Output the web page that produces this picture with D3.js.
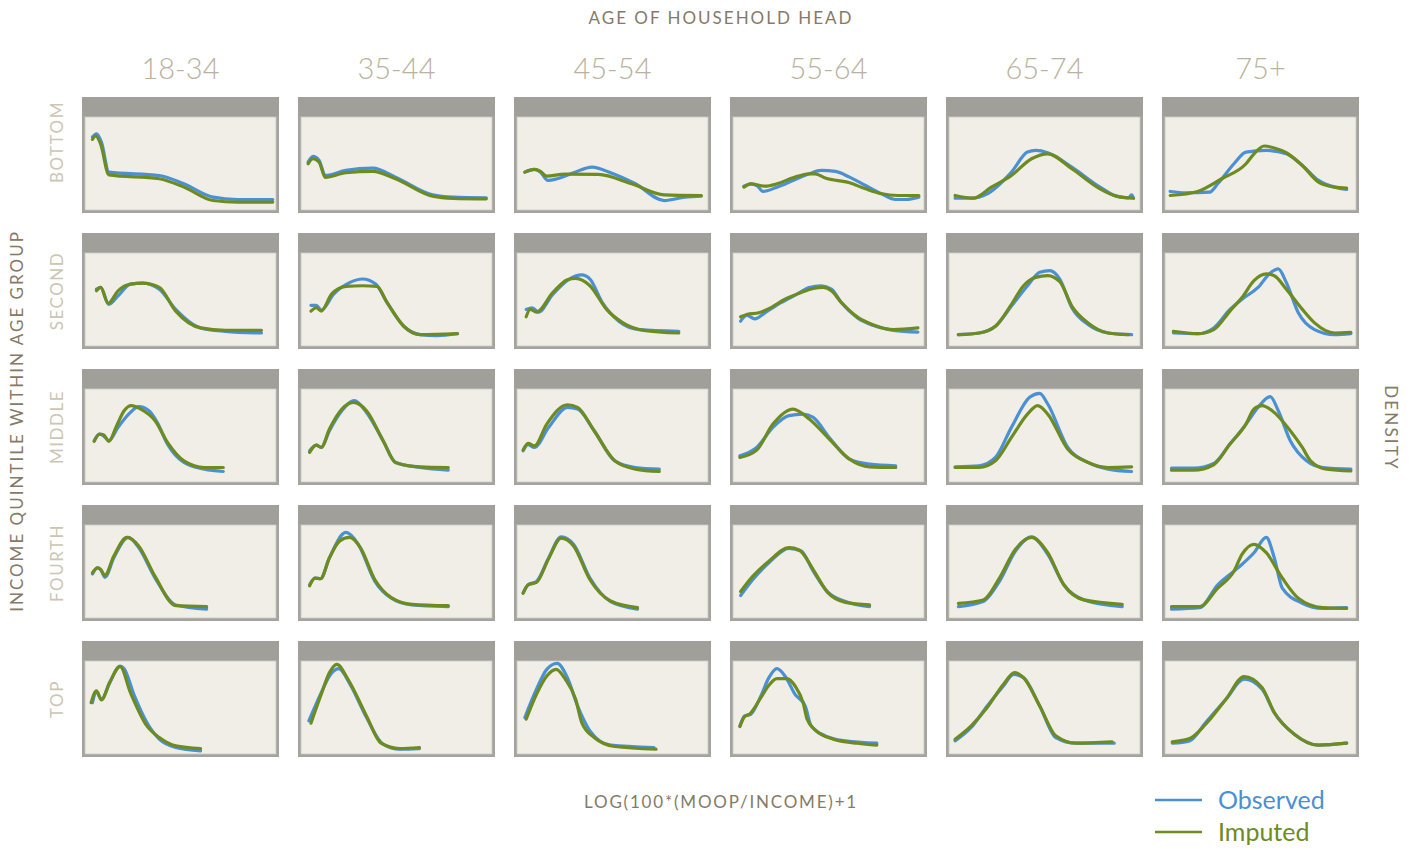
<!DOCTYPE html>
<html>
<head>
<meta charset="utf-8">
<script src="https://cdn.jsdelivr.net/npm/d3@7"></script>
<style>
  body { margin: 0; background: #ffffff; }
  svg { display: block; }
</style>
</head>
<body>
<svg id="chart" width="1416" height="850"></svg>
<script>
// Facet categories
const ageGroups = ["18-34", "35-44", "45-54", "55-64", "65-74", "75+"];
const quintiles = ["BOTTOM", "SECOND", "MIDDLE", "FOURTH", "TOP"];
const seriesNames = ["Observed", "Imputed"];

// Density curves, one per age group, as [log value, density] pairs
const observedBottom = [
  [[0.39,0.775],[0.60,0.81],[0.86,0.72],[1.25,0.40],[3.89,0.364],[5.18,0.275],[6.70,0.132],[7.99,0.107],[9.83,0.107]],
  [[0.37,0.507],[0.63,0.568],[0.95,0.525],[1.27,0.364],[2.35,0.418],[3.76,0.443],[4.95,0.346],[6.89,0.157],[7.97,0.132],[9.70,0.125]],
  [[0.41,0.40],[0.91,0.429],[1.23,0.40],[1.62,0.311],[2.10,0.329],[2.96,0.393],[3.93,0.454],[4.90,0.393],[6.20,0.275],[7.71,0.096],[8.79,0.132],[9.65,0.143]],
  [[0.57,0.25],[0.93,0.275],[1.29,0.25],[1.56,0.193],[2.30,0.239],[3.14,0.311],[3.99,0.382],[4.62,0.418],[5.36,0.407],[6.10,0.346],[6.94,0.257],[7.78,0.168],[8.52,0.107],[9.05,0.107],[9.73,0.132]],
  [[0.32,0.121],[1.16,0.121],[2.00,0.168],[3.27,0.40],[4.11,0.614],[4.54,0.632],[5.17,0.607],[6.43,0.454],[7.91,0.239],[8.76,0.143],[9.39,0.125],[9.56,0.157],[9.66,0.121]],
  [[0.27,0.193],[1.08,0.179],[2.34,0.186],[2.76,0.275],[3.61,0.489],[4.24,0.614],[5.30,0.632],[6.35,0.596],[7.19,0.471],[8.04,0.311],[8.88,0.239],[9.51,0.214]]
];
const imputedBottom = [
  [[0.39,0.75],[0.56,0.786],[0.82,0.70],[1.25,0.371],[3.89,0.329],[5.18,0.24],[6.70,0.096],[7.99,0.079],[9.83,0.079]],
  [[0.37,0.489],[0.63,0.543],[0.95,0.507],[1.27,0.343],[2.35,0.393],[3.76,0.407],[4.95,0.329],[6.89,0.143],[7.97,0.12],[9.70,0.114]],
  [[0.41,0.40],[0.91,0.429],[1.23,0.407],[1.55,0.357],[2.5,0.379],[4.25,0.375],[6.0,0.275],[7.71,0.157],[9.65,0.15]],
  [[0.57,0.239],[0.93,0.275],[1.67,0.25],[2.30,0.275],[3.14,0.339],[3.99,0.382],[4.30,0.382],[4.83,0.336],[6.10,0.286],[6.94,0.221],[7.78,0.168],[8.63,0.15],[9.73,0.15]],
  [[0.32,0.15],[1.27,0.121],[2.22,0.239],[3.27,0.364],[4.32,0.543],[5.17,0.596],[6.43,0.436],[7.91,0.221],[8.76,0.143],[9.66,0.121]],
  [[0.27,0.15],[1.71,0.193],[2.97,0.329],[4.24,0.489],[4.66,0.596],[5.19,0.679],[5.72,0.657],[6.35,0.607],[7.19,0.471],[8.04,0.293],[8.88,0.239],[9.51,0.229]]
];

const observedSecond = [
  [[0.60,0.603],[0.82,0.621],[1.25,0.440],[1.73,0.531],[2.38,0.657],[3.02,0.668],[3.89,0.603],[4.75,0.386],[6.05,0.188],[7.34,0.152],[9.24,0.134]],
  [[0.52,0.430],[0.80,0.430],[1.06,0.379],[1.71,0.549],[2.57,0.675],[3.22,0.711],[3.91,0.657],[4.51,0.458],[5.38,0.206],[6.24,0.116],[7.11,0.105],[8.19,0.126]],
  [[0.48,0.386],[0.80,0.404],[1.12,0.357],[1.88,0.549],[2.74,0.711],[3.39,0.755],[3.82,0.711],[4.47,0.458],[5.33,0.260],[6.41,0.170],[8.47,0.152]],
  [[0.40,0.26],[0.72,0.321],[1.14,0.285],[1.67,0.350],[2.51,0.458],[3.35,0.549],[3.99,0.621],[4.62,0.639],[5.15,0.603],[5.68,0.458],[6.52,0.296],[7.36,0.213],[8.42,0.162],[9.68,0.144]],
  [[0.49,0.116],[1.58,0.134],[2.43,0.206],[3.27,0.422],[4.11,0.639],[4.75,0.783],[5.27,0.801],[5.80,0.711],[6.43,0.404],[7.28,0.224],[8.33,0.134],[9.56,0.116]],
  [[0.44,0.134],[1.71,0.126],[2.55,0.188],[3.40,0.386],[4.03,0.495],[4.87,0.621],[5.51,0.776],[5.93,0.819],[6.35,0.675],[6.98,0.350],[7.83,0.170],[8.88,0.116],[9.73,0.126]]
];
const imputedSecond = [
  [[0.60,0.585],[0.82,0.621],[1.21,0.451],[1.73,0.585],[2.38,0.657],[3.02,0.668],[3.89,0.621],[4.75,0.368],[6.05,0.188],[7.34,0.162],[9.24,0.162]],
  [[0.52,0.368],[0.80,0.404],[1.06,0.368],[1.60,0.549],[2.35,0.632],[3.22,0.639],[3.97,0.632],[4.51,0.458],[5.38,0.206],[6.24,0.116],[8.19,0.126]],
  [[0.48,0.307],[0.69,0.386],[1.02,0.357],[1.88,0.567],[2.64,0.704],[3.07,0.718],[3.82,0.639],[4.69,0.386],[5.55,0.242],[6.63,0.162],[8.47,0.134]],
  [[0.40,0.307],[0.72,0.332],[1.35,0.350],[1.88,0.394],[2.72,0.495],[3.57,0.567],[4.20,0.610],[4.73,0.621],[5.15,0.585],[5.68,0.458],[6.52,0.303],[7.36,0.220],[8.42,0.170],[9.68,0.188]],
  [[0.49,0.116],[1.58,0.134],[2.43,0.206],[3.27,0.440],[3.90,0.639],[4.54,0.729],[5.17,0.747],[5.80,0.682],[6.43,0.422],[7.28,0.242],[8.33,0.134],[9.39,0.116]],
  [[0.44,0.152],[1.71,0.126],[2.55,0.170],[3.40,0.368],[4.03,0.513],[4.66,0.693],[5.30,0.765],[5.72,0.747],[6.35,0.603],[7.19,0.386],[7.83,0.242],[8.88,0.134],[9.73,0.141]]
];

const observedMiddle = [
  [[0.48,0.436],[0.76,0.507],[0.97,0.489],[1.25,0.436],[1.73,0.579],[2.38,0.739],[2.81,0.80],[3.35,0.757],[3.78,0.632],[4.32,0.40],[5.18,0.204],[6.26,0.132],[7.24,0.107]],
  [[0.45,0.329],[0.80,0.389],[1.06,0.364],[1.49,0.543],[2.14,0.757],[2.79,0.864],[3.43,0.739],[4.30,0.436],[4.95,0.204],[6.24,0.15],[7.71,0.121]],
  [[0.32,0.329],[0.58,0.393],[0.91,0.364],[1.66,0.579],[2.64,0.793],[3.17,0.775],[4.04,0.543],[5.12,0.221],[6.20,0.15],[7.45,0.132]],
  [[0.36,0.275],[1.24,0.364],[2.09,0.579],[2.93,0.704],[3.67,0.721],[4.20,0.686],[5.04,0.471],[6.10,0.239],[7.15,0.186],[8.52,0.168]],
  [[0.32,0.157],[1.58,0.168],[2.43,0.257],[3.27,0.579],[4.22,0.90],[4.75,0.943],[5.17,0.829],[6.22,0.364],[7.28,0.204],[8.33,0.132],[9.56,0.107]],
  [[0.34,0.143],[1.50,0.143],[2.55,0.193],[3.40,0.40],[4.24,0.614],[4.87,0.793],[5.51,0.907],[5.93,0.757],[6.56,0.436],[7.41,0.221],[8.25,0.15],[9.73,0.132]]
];
const imputedMiddle = [
  [[0.48,0.429],[0.76,0.507],[0.97,0.50],[1.25,0.429],[1.62,0.579],[2.05,0.757],[2.42,0.811],[2.92,0.775],[3.67,0.65],[4.32,0.418],[5.18,0.221],[6.26,0.15],[7.24,0.15]],
  [[0.45,0.311],[0.80,0.389],[1.06,0.364],[1.49,0.561],[2.14,0.775],[2.74,0.846],[3.43,0.757],[4.30,0.436],[4.95,0.204],[6.24,0.157],[7.71,0.15]],
  [[0.32,0.336],[0.58,0.407],[0.91,0.382],[1.56,0.614],[2.64,0.821],[3.17,0.793],[4.04,0.543],[5.12,0.221],[6.20,0.132],[7.45,0.107]],
  [[0.36,0.257],[1.24,0.336],[2.09,0.614],[3.14,0.775],[3.99,0.668],[5.04,0.454],[6.10,0.239],[7.15,0.157],[8.52,0.15]],
  [[0.32,0.15],[1.58,0.15],[2.43,0.221],[3.27,0.471],[4.11,0.721],[4.64,0.811],[5.17,0.721],[6.22,0.346],[7.28,0.204],[8.33,0.15],[9.56,0.157]],
  [[0.34,0.121],[1.50,0.121],[2.55,0.179],[3.40,0.40],[4.24,0.614],[4.66,0.775],[5.08,0.811],[5.61,0.757],[6.56,0.543],[7.19,0.364],[7.62,0.221],[8.46,0.132],[9.73,0.114]]
];

const observedFourth = [
  [[0.39,0.466],[0.65,0.531],[0.82,0.513],[1.04,0.430],[1.51,0.639],[2.27,0.856],[2.81,0.747],[3.67,0.422],[4.75,0.134],[6.37,0.090]],
  [[0.45,0.350],[0.73,0.422],[1.02,0.415],[1.49,0.639],[2.35,0.910],[3.00,0.783],[3.87,0.386],[4.73,0.206],[5.81,0.134],[7.71,0.116]],
  [[0.32,0.260],[0.58,0.350],[1.02,0.386],[1.66,0.639],[2.31,0.863],[2.96,0.783],[3.82,0.422],[4.90,0.170],[6.31,0.090]],
  [[0.40,0.235],[1.03,0.404],[1.88,0.585],[2.93,0.740],[3.57,0.711],[4.20,0.495],[4.94,0.278],[5.89,0.170],[7.15,0.116]],
  [[0.49,0.116],[1.79,0.170],[2.64,0.386],[3.48,0.711],[4.32,0.863],[5.17,0.675],[6.01,0.350],[7.07,0.188],[9.07,0.116]],
  [[0.34,0.090],[1.81,0.105],[2.76,0.350],[3.82,0.531],[4.66,0.693],[5.30,0.856],[5.72,0.639],[6.14,0.314],[7.19,0.152],[8.25,0.097],[9.51,0.105]]
];
const imputedFourth = [
  [[0.39,0.477],[0.65,0.531],[0.82,0.513],[1.04,0.451],[1.51,0.657],[2.20,0.856],[2.81,0.765],[3.67,0.440],[4.75,0.126],[6.37,0.116]],
  [[0.45,0.339],[0.73,0.422],[1.02,0.415],[1.49,0.639],[2.03,0.819],[2.53,0.856],[3.11,0.747],[3.87,0.404],[4.73,0.213],[5.81,0.141],[7.71,0.126]],
  [[0.32,0.260],[0.58,0.350],[1.02,0.375],[1.66,0.632],[2.31,0.848],[2.96,0.765],[3.82,0.404],[4.90,0.177],[6.31,0.105]],
  [[0.40,0.278],[1.03,0.440],[1.88,0.603],[2.93,0.747],[3.46,0.722],[4.20,0.513],[4.94,0.271],[5.89,0.162],[7.15,0.134]],
  [[0.49,0.152],[1.79,0.188],[2.64,0.422],[3.48,0.729],[4.32,0.856],[5.17,0.693],[6.01,0.350],[7.07,0.188],[9.07,0.141]],
  [[0.34,0.116],[1.81,0.116],[2.76,0.314],[3.61,0.495],[4.03,0.675],[4.66,0.783],[5.30,0.693],[6.14,0.422],[6.98,0.206],[8.25,0.105],[9.51,0.097]]
];

const observedTop = [
  [[0.39,0.544],[0.60,0.658],[0.86,0.580],[1.30,0.758],[1.84,0.936],[2.05,0.907],[2.59,0.616],[3.24,0.331],[3.89,0.153],[4.75,0.064],[6.05,0.028]],
  [[0.41,0.349],[1.06,0.651],[1.49,0.829],[1.97,0.907],[2.57,0.740],[3.43,0.384],[4.30,0.10],[5.16,0.046],[6.20,0.053]],
  [[0.41,0.384],[1.02,0.687],[1.56,0.90],[2.10,0.964],[2.64,0.811],[3.17,0.509],[3.82,0.242],[4.90,0.089],[7.17,0.064]],
  [[0.36,0.295],[0.61,0.402],[0.93,0.420],[1.46,0.616],[1.88,0.811],[2.30,0.907],[2.72,0.829],[3.25,0.633],[3.78,0.509],[4.09,0.295],[4.83,0.189],[5.89,0.135],[7.53,0.110]],
  [[0.32,0.135],[1.16,0.278],[2.00,0.509],[2.85,0.722],[3.38,0.847],[3.90,0.811],[4.75,0.509],[5.59,0.171],[6.65,0.110],[8.65,0.110]],
  [[0.38,0.110],[1.29,0.135],[2.13,0.331],[3.19,0.580],[4.14,0.794],[5.08,0.687],[5.72,0.438],[6.77,0.206],[8.04,0.089],[9.51,0.110]]
];
const imputedTop = [
  [[0.32,0.544],[0.60,0.669],[0.86,0.573],[1.30,0.765],[1.84,0.929],[2.38,0.651],[3.24,0.295],[3.89,0.171],[4.75,0.082],[6.05,0.053]],
  [[0.52,0.324],[1.06,0.633],[1.49,0.865],[1.88,0.954],[2.46,0.794],[3.43,0.402],[4.19,0.110],[5.16,0.053],[6.20,0.064]],
  [[0.48,0.367],[1.02,0.633],[1.56,0.829],[2.05,0.90],[2.53,0.794],[3.07,0.580],[3.39,0.331],[4.04,0.171],[5.12,0.075],[7.28,0.046]],
  [[0.36,0.288],[0.61,0.395],[0.86,0.420],[1.46,0.598],[1.88,0.730],[2.30,0.801],[2.83,0.801],[3.25,0.722],[3.67,0.544],[3.88,0.367],[4.30,0.253],[5.25,0.153],[6.52,0.110],[7.53,0.089]],
  [[0.32,0.153],[1.16,0.295],[2.00,0.491],[2.85,0.740],[3.44,0.865],[3.90,0.811],[4.75,0.509],[5.59,0.189],[6.65,0.110],[8.54,0.125]],
  [[0.38,0.125],[1.29,0.160],[2.13,0.313],[3.19,0.580],[4.14,0.822],[5.08,0.705],[5.72,0.438],[6.77,0.206],[8.04,0.089],[9.51,0.110]]
];

const observed = [observedBottom, observedSecond, observedMiddle, observedFourth, observedTop];
const imputed  = [imputedBottom, imputedSecond, imputedMiddle, imputedFourth, imputedTop];

// Styling
const colors = { Observed: "#4a90d4", Imputed: "#6e8b1f" };
const stripH = 19, borderW = 3;

const svg = d3.select("#chart");

// Facet grid bands
const colScale = d3.scaleBand().domain(ageGroups).range([82, 1359]).paddingInner(0.088);
const rowScale = d3.scaleBand().domain(quintiles).range([97, 757]).paddingInner(0.147);

const line = d3.line().curve(d3.curveMonotoneX);

quintiles.forEach((q, r) => {
  ageGroups.forEach((a, c) => {
    const px = colScale(a), py = rowScale(q);
    const pw = colScale.bandwidth(), ph = rowScale.bandwidth();
    const g = svg.append("g");

    // panel frame, strip and plot background
    g.append("rect").attr("x", px).attr("y", py).attr("width", pw).attr("height", ph)
      .attr("fill", "#a4a39e");
    g.append("rect").attr("x", px + borderW).attr("y", py + stripH + 1)
      .attr("width", pw - 2 * borderW).attr("height", ph - stripH - 1 - borderW)
      .attr("fill", "#f0eee7").attr("stroke", "#c9c7c1").attr("stroke-width", 0.8);
    g.append("rect").attr("x", px).attr("y", py).attr("width", pw).attr("height", stripH)
      .attr("fill", "#a09f9a");

    const x = d3.scaleLinear().domain([0, 10]).range([px + borderW, px + pw - borderW]);
    const y = d3.scaleLinear().domain([0, 1]).range([py + ph - borderW - 0.5, py + stripH]);
    line.x(d => x(d[0])).y(d => y(d[1]));

    [["Observed", observed[r][c]], ["Imputed", imputed[r][c]]].forEach(([name, pts]) => {
      g.append("path").datum(pts)
        .attr("d", line)
        .attr("fill", "none")
        .attr("stroke", colors[name])
        .attr("stroke-width", 3.2)
        .attr("stroke-linejoin", "round")
        .attr("stroke-linecap", "round");
    });
  });
});

// Column headers
svg.selectAll(".col-label").data(ageGroups).join("text")
  .attr("x", d => colScale(d) + colScale.bandwidth() / 2)
  .attr("y", 79)
  .attr("text-anchor", "middle")
  .attr("font-family", "Lato, 'Open Sans', sans-serif")
  .attr("font-weight", 300)
  .attr("font-size", 29)
  .attr("fill", "#bab29d")
  .text(d => d);

// Row labels
svg.selectAll(".row-label").data(quintiles).join("text")
  .attr("transform", (d, i) => {
    const cy = i === 0 ? 142 : rowScale(d) + rowScale.bandwidth() / 2;
    return `translate(63,${cy}) rotate(-90)`;
  })
  .attr("text-anchor", "middle")
  .attr("font-family", "Lato, 'Open Sans', sans-serif")
  .attr("font-size", 17)
  .attr("letter-spacing", 1.5)
  .attr("fill", "#cdc6b4")
  .text(d => d);

const axisFont = "Lato, 'Open Sans', sans-serif";
svg.append("text")
  .attr("x", 721).attr("y", 24)
  .attr("text-anchor", "middle")
  .attr("font-family", axisFont).attr("font-size", 17).attr("letter-spacing", 2)
  .attr("fill", "#857a68")
  .text("AGE OF HOUSEHOLD HEAD");

svg.append("text")
  .attr("transform", "translate(23,421) rotate(-90)")
  .attr("text-anchor", "middle")
  .attr("font-family", axisFont).attr("font-size", 17).attr("letter-spacing", 2)
  .attr("fill", "#857a68")
  .text("INCOME QUINTILE WITHIN AGE GROUP");

svg.append("text")
  .attr("transform", "translate(1385,428) rotate(90)")
  .attr("text-anchor", "middle")
  .attr("font-family", axisFont).attr("font-size", 17).attr("letter-spacing", 2.2)
  .attr("fill", "#857a68")
  .text("DENSITY");

svg.append("text")
  .attr("x", 721).attr("y", 808)
  .attr("text-anchor", "middle")
  .attr("font-family", axisFont).attr("font-size", 17).attr("letter-spacing", 1.8)
  .attr("fill", "#857a68")
  .text("LOG(100*(MOOP/INCOME)+1");

// Legend
const legend = svg.append("g").attr("transform", "translate(1155,800)");
seriesNames.forEach((name, i) => {
  const row = legend.append("g").attr("transform", `translate(0,${i * 32})`);
  row.append("line").attr("x1", 0).attr("x2", 47).attr("y1", 0).attr("y2", 0)
    .attr("stroke", colors[name]).attr("stroke-width", 2.5);
  row.append("text").attr("x", 63).attr("y", 9)
    .attr("font-family", "Lato, 'Open Sans', sans-serif").attr("font-size", 25)
    .attr("fill", colors[name])
    .text(name);
});
</script>
</body>
</html>
